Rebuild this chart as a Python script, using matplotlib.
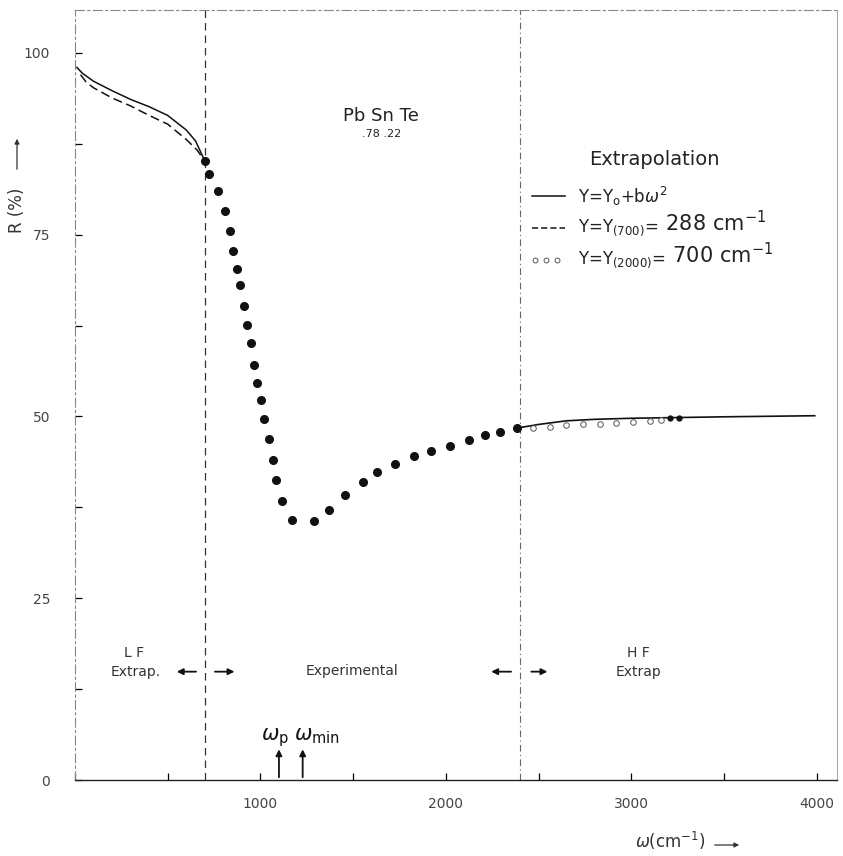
import numpy as np
import matplotlib.pyplot as plt

plt.rcParams['font.family'] = ['DejaVu Sans']
plt.rcParams['mathtext.fontset'] = 'dejavusans'

# measured reflectivity (experimental points)
exp_w = [700, 725, 770, 808, 837, 853, 875, 891, 910, 930, 948, 966, 982, 1002,
         1020, 1047, 1069, 1085, 1115, 1173, 1287, 1370, 1458, 1551, 1631, 1728,
         1830, 1922, 2022, 2123, 2211, 2295, 2385]
exp_R = [85.1, 83.4, 81.0, 78.3, 75.5, 72.8, 70.3, 68.1, 65.2, 62.6, 60.1, 57.1,
         54.6, 52.3, 49.7, 46.9, 44.0, 41.3, 38.4, 35.8, 35.6, 37.2, 39.2, 41.0,
         42.4, 43.4, 44.5, 45.2, 45.9, 46.7, 47.4, 47.8, 48.4]

# low frequency extrapolations
lf_w_solid = [10, 40, 100, 200, 300, 400, 500, 600, 650, 690, 700]
lf_R_solid = [98.0, 97.2, 96.1, 94.8, 93.6, 92.6, 91.4, 89.4, 87.9, 85.7, 85.1]
lf_w_dash = [30, 60, 100, 200, 300, 400, 500, 600, 660, 700]
lf_R_dash = [97.0, 96.0, 95.2, 93.8, 92.7, 91.4, 90.2, 88.1, 86.6, 85.1]

# high frequency extrapolations
hf_w_solid = [2385, 2500, 2650, 2800, 3000, 3250, 3500, 3990]
hf_R_solid = [48.4, 48.9, 49.4, 49.6, 49.75, 49.85, 49.95, 50.1]
hf_w_circ = [2470, 2560, 2650, 2740, 2830, 2920, 3010, 3100, 3160]
hf_R_circ = [48.4, 48.6, 48.8, 48.9, 49.0, 49.1, 49.2, 49.35, 49.5]
hf_w_dot = [3210, 3260]
hf_R_dot = [49.8, 49.8]

w_p = 1100
w_min = 1228

fig = plt.figure(figsize=(8.43, 8.56), dpi=100)
ax = fig.add_axes([75 / 843, 76 / 856, 762 / 843, 770 / 856])
ax.set_xlim(0, 4110)
ax.set_ylim(0, 105.9)

# frame, looks like a photocopy
for s in ['left', 'top']:
    ax.spines[s].set_linestyle((0, (8, 3, 2, 3)))
    ax.spines[s].set_color('#888888')
    ax.spines[s].set_linewidth(0.8)
ax.spines['right'].set_color('#aaaaaa')
ax.spines['right'].set_linewidth(0.8)
ax.spines['bottom'].set_color('#222222')
ax.spines['bottom'].set_linewidth(1.0)

ax.set_xticks(np.arange(0, 4001, 500))
ax.set_xticklabels(['', '', '1000', '', '2000', '', '3000', '', '4000'])
ax.set_yticks([0, 25, 50, 75, 100])
ax.set_yticks(np.arange(12.5, 100, 25), minor=True)
ax.tick_params(axis='x', direction='in', length=5, width=0.9, pad=12,
               labelsize=10, labelcolor='#444444')
ax.tick_params(axis='y', which='both', direction='in', length=5, width=0.9,
               pad=18, labelsize=10, labelcolor='#444444')

# region boundaries
ax.axvline(700, color='#333333', lw=0.9, ls=(0, (6, 4)))
ax.axvline(2400, color='#666666', lw=0.8, ls=(0, (6, 3, 1, 3)))

ax.plot(lf_w_solid, lf_R_solid, color='#111111', lw=1.1)
ax.plot(lf_w_dash, lf_R_dash, color='#111111', lw=1.1, ls=(0, (6, 3)))
ax.plot(exp_w, exp_R, 'o', color='#111111', ms=5.5)
ax.plot(hf_w_solid, hf_R_solid, color='#111111', lw=1.2)
ax.plot(hf_w_circ, hf_R_circ, 'o', mfc='white', mec='#555555', ms=4, mew=0.7)
ax.plot(hf_w_dot, hf_R_dot, 'o', color='#111111', ms=3.5)

# sample label
ax.text(1652, 91.3, 'Pb Sn Te', ha='center', va='center', fontsize=13, color='#222222')
ax.text(1652, 88.8, '.78 .22', ha='center', va='center', fontsize=8, color='#222222')

# legend
ax.text(3124, 85.3, 'Extrapolation', ha='center', va='center', fontsize=14, color='#222222')
ax.plot([2466, 2644], [80.3, 80.3], color='#111111', lw=1.1)
ax.plot([2466, 2644], [75.9, 75.9], color='#111111', lw=1.1, ls=(0, (4, 2)))
ax.plot([2480, 2540, 2600], [71.5, 71.5, 71.5], 'o', mfc='white', mec='#555555', ms=3.5, mew=0.7)
ax.text(2714, 80.3, r'Y=Y$_{\rm o}$+b$\omega^2$', va='center', fontsize=12, color='#222222')
t2 = ax.text(2714, 75.9, r'Y=Y$_{(700)}$=', va='center', fontsize=12, color='#222222')
ax.annotate(r' 288 cm$^{-1}$', xy=(1, 0.15), xycoords=t2, va='bottom', fontsize=15, color='#222222')
t3 = ax.text(2714, 71.5, r'Y=Y$_{(2000)}$=', va='center', fontsize=12, color='#222222')
ax.annotate(r' 700 cm$^{-1}$', xy=(1, 0.15), xycoords=t3, va='bottom', fontsize=15, color='#222222')

# region labels
ax.text(320, 17.4, 'L F', ha='center', va='center', fontsize=10, color='#333333')
ax.text(330, 14.8, 'Extrap.', ha='center', va='center', fontsize=10, color='#333333')
ax.text(1494, 15.0, 'Experimental', ha='center', va='center', fontsize=10, color='#333333')
ax.text(3040, 17.4, 'H F', ha='center', va='center', fontsize=10, color='#333333')
ax.text(3040, 14.8, 'Extrap', ha='center', va='center', fontsize=10, color='#333333')
arrow = dict(arrowstyle='-|>', color='#111111', lw=1.3, mutation_scale=9)
for x0, x1 in [(668, 534), (740, 875), (2367, 2230), (2446, 2563)]:
    ax.annotate('', xy=(x1, 14.9), xytext=(x0, 14.9), arrowprops=arrow)

# plasma and minimum frequencies
for wv in [w_p, w_min]:
    ax.annotate('', xy=(wv, 4.6), xytext=(wv, 0), arrowprops=arrow)
ax.text(w_p - 20, 5.4, r'$\omega_{\rm p}$', ha='center', va='baseline', fontsize=15, color='#111111')
ax.text(w_min - 45, 5.4, r'$\omega_{\rm min}$', ha='left', va='baseline', fontsize=15, color='#111111')

# axis titles
fig.text(670 / 843, 1 - 841 / 856, r'$\omega$(cm$^{-1}$)', ha='center', va='center',
         fontsize=12, color='#333333')
ax.annotate('', xy=(742 / 843, 1 - 845 / 856), xytext=(712 / 843, 1 - 845 / 856),
            xycoords='figure fraction', arrowprops=dict(arrowstyle='-|>', color='#333333',
                                                        lw=0.9, mutation_scale=7))
fig.text(17 / 843, 1 - 210 / 856, 'R (%)', rotation=90, ha='center', va='center',
         fontsize=12, color='#333333')
ax.annotate('', xy=(17 / 843, 1 - 136 / 856), xytext=(17 / 843, 1 - 172 / 856),
            xycoords='figure fraction', arrowprops=dict(arrowstyle='-|>', color='#333333',
                                                        lw=0.9, mutation_scale=7))

fig.savefig('out.png', dpi=100)
